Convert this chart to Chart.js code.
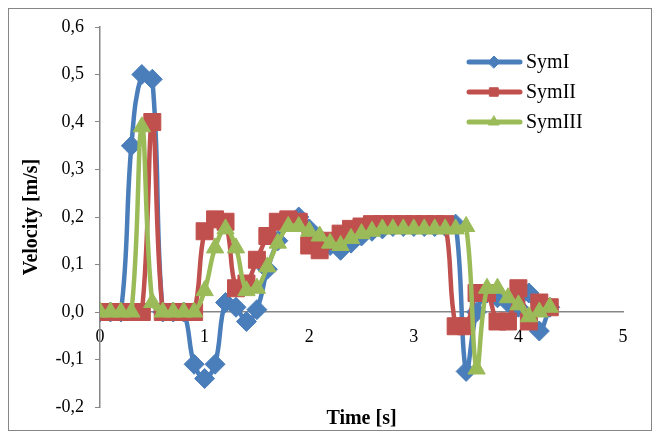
<!DOCTYPE html>
<html>
<head>
<meta charset="utf-8">
<script src="https://cdn.jsdelivr.net/npm/chart.js@4.4.1/dist/chart.umd.min.js"></script>
<style>
  html, body { margin: 0; padding: 0; background: #fff; }
  #wrap { width: 661px; height: 435px; }
</style>
</head>
<body>
<div id="wrap"><canvas id="velocityChart" width="661" height="435"></canvas></div>
<script>
// Time samples [s]
const times = [0.0, 0.1, 0.2, 0.3, 0.4, 0.5, 0.6, 0.7, 0.8, 0.9,
               1.0, 1.1, 1.2, 1.3, 1.4, 1.5, 1.6, 1.7, 1.8, 1.9,
               2.0, 2.1, 2.2, 2.3, 2.4, 2.5, 2.6, 2.7, 2.8, 2.9,
               3.0, 3.1, 3.2, 3.3, 3.4, 3.5, 3.6, 3.7, 3.8, 3.9,
               4.0, 4.1, 4.2, 4.3];

// Velocity [m/s]
const symI = [0, 0, 0, 0.35, 0.50, 0.49, 0, 0, 0, -0.11,
              -0.14, -0.11, 0.02, 0.01, -0.02, 0.005, 0.09, 0.15, 0.19, 0.20,
              0.175, 0.155, 0.14, 0.13, 0.145, 0.16, 0.17, 0.175, 0.18, 0.18,
              0.18, 0.18, 0.18, 0.18, 0.185, -0.125, 0.0, 0.04, 0.03, 0.02,
              0.01, 0.04, -0.04, 0.01];

const symII = [0, 0, 0, 0, 0, 0.40, 0, 0, 0, 0,
               0.17, 0.195, 0.19, 0.05, 0.06, 0.11, 0.16, 0.19, 0.195, 0.19,
               0.14, 0.13, 0.15, 0.165, 0.175, 0.18, 0.185, 0.185, 0.185, 0.185,
               0.185, 0.185, 0.185, 0.185, -0.03, -0.03, 0.04, 0.04, -0.02, -0.02,
               0.05, -0.02, 0.02, 0.01];

const symIII = [0, 0, 0, 0, 0.39, 0.02, 0, 0, 0, 0,
                0.045, 0.135, 0.175, 0.135, 0.045, 0.05, 0.095, 0.145, 0.18, 0.18,
                0.17, 0.16, 0.145, 0.14, 0.155, 0.165, 0.17, 0.175, 0.175, 0.175,
                0.175, 0.175, 0.175, 0.175, 0.175, 0.18, -0.12, 0.05, 0.05, 0.03,
                0.015, -0.01, 0.0, 0.01];

const seriesNames = ['SymI', 'SymII', 'SymIII'];
const seriesColors = ['#4A7EBB', '#C0504D', '#9BBB59'];
const seriesMarkers = ['rectRot', 'rect', 'triangle'];
const markerSizes = [10, 12, 10];

const serif = 'Liberation Serif, "Times New Roman", serif';

function toPoints(values) {
  return values.map((v, i) => ({ x: times[i], y: v }));
}

// Outer frame
const framePlugin = {
  id: 'frame',
  beforeDraw(chart) {
    const ctx = chart.ctx;
    ctx.save();
    ctx.fillStyle = '#fff';
    ctx.fillRect(0, 0, chart.width, chart.height);
    ctx.strokeStyle = '#868686';
    ctx.lineWidth = 1;
    ctx.strokeRect(8.5, 8.5, 643, 422);
    ctx.restore();
  }
};

// Legend with line + marker, like the spreadsheet one
const sideLegend = {
  id: 'sideLegend',
  afterDraw(chart) {
    const ctx = chart.ctx;
    chart.data.datasets.forEach((ds, i) => {
      const y = 62 + i * 30;
      ctx.save();
      ctx.strokeStyle = ds.borderColor;
      ctx.fillStyle = ds.borderColor;
      ctx.lineWidth = 5;
      ctx.lineCap = 'round';
      ctx.beginPath();
      ctx.moveTo(469, y);
      ctx.lineTo(520, y);
      ctx.stroke();
      ctx.lineWidth = 1;
      Chart.helpers.drawPoint(ctx, { pointStyle: ds.pointStyle, radius: 6, borderWidth: 1 }, 494, y);
      ctx.fillStyle = '#000';
      ctx.font = '20px ' + serif;
      ctx.textBaseline = 'middle';
      ctx.textAlign = 'left';
      ctx.fillText(ds.label, 526, y + 1);
      ctx.restore();
    });
  }
};

const datasets = [symI, symII, symIII].map((vals, i) => ({
  label: seriesNames[i],
  data: toPoints(vals),
  borderColor: seriesColors[i],
  backgroundColor: seriesColors[i],
  borderWidth: 4.5,
  tension: 0.4,
  pointStyle: seriesMarkers[i],
  pointRadius: markerSizes[i],
  pointBorderWidth: 1,
  order: 3 - i
}));

new Chart(document.getElementById('velocityChart'), {
  type: 'line',
  data: { datasets: datasets },
  options: {
    responsive: false,
    animation: false,
    devicePixelRatio: 1,
    layout: { padding: { left: 8, right: 38, top: 27, bottom: 1 } },
    plugins: {
      legend: { display: false },
      tooltip: { enabled: false },
      title: {
        display: true,
        position: 'bottom',
        fullSize: false,
        text: 'Time [s]',
        color: '#000',
        font: { family: serif, size: 20, weight: 'bold' },
        padding: { top: 0, bottom: 3 }
      }
    },
    scales: {
      x: {
        type: 'linear',
        min: 0,
        max: 5,
        position: { y: 0 },
        ticks: {
          stepSize: 1,
          padding: 14,
          color: '#000',
          font: { family: serif, size: 18 },
          callback: v => String(v)
        },
        grid: { display: false, drawTicks: false },
        border: { display: true, color: '#868686', width: 1.5 }
      },
      y: {
        min: -0.2,
        max: 0.6,
        ticks: {
          stepSize: 0.1,
          padding: 11,
          color: '#000',
          font: { family: serif, size: 18 },
          callback: v => (Math.round(v * 10) / 10).toFixed(1).replace('.', ',')
        },
        grid: { drawOnChartArea: false, drawTicks: true, tickLength: 5, color: '#868686', lineWidth: 1 },
        border: { display: true, color: '#868686', width: 1.5 },
        title: {
          display: true,
          text: 'Velocity [m/s]',
          color: '#000',
          font: { family: serif, size: 20, weight: 'bold' },
          padding: { top: 12, bottom: 0 }
        },
        afterFit: s => { s.width = 92; }
      }
    }
  },
  plugins: [framePlugin, sideLegend]
});
</script>
</body>
</html>
